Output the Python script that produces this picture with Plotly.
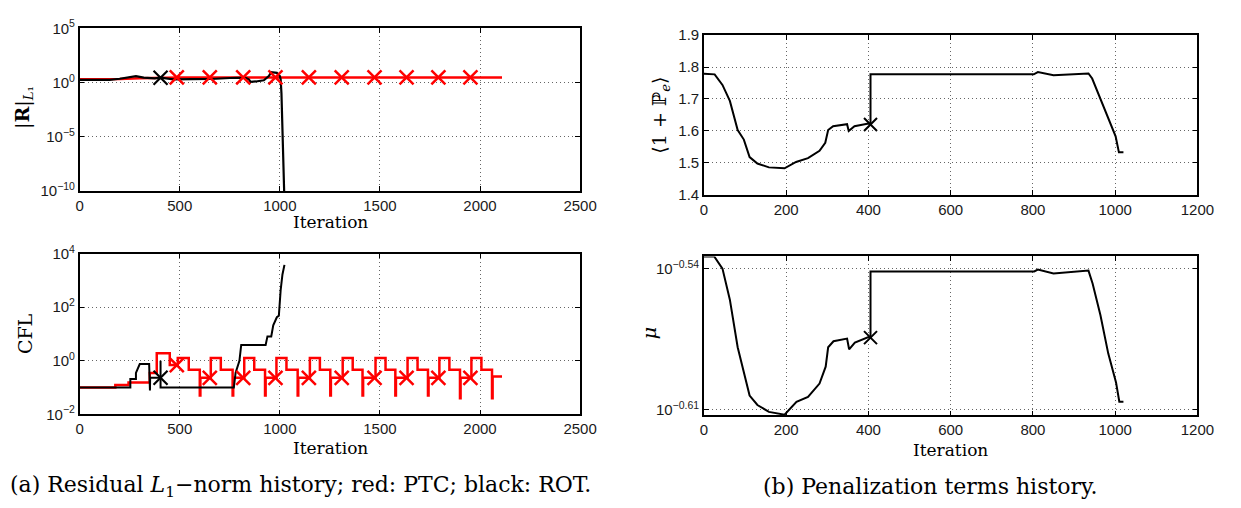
import plotly.graph_objects as go

# ---------------- data ----------------
# (a) top: residual L1 norm (log10 exponents)
res_red_iter = [0, 100, 200, 300, 400, 500, 1000, 1500, 2110]
res_red_exp = [0.30, 0.30, 0.32, 0.40, 0.45, 0.47, 0.475, 0.475, 0.475]
res_blk_iter = [0, 150, 200, 244, 281, 320, 375, 404, 469, 560, 657, 750, 826, 845,
                854, 880, 920, 945, 957, 985, 1000, 1004, 1008, 1023]
res_blk_exp = [0.24, 0.24, 0.35, 0.50, 0.59, 0.45, 0.39, 0.45, 0.30, 0.31, 0.33, 0.42,
               0.45, 0.30, 0.06, 0.10, 0.21, 0.60, 0.95, 0.89, 0.60, 0.30, -1.0, -11.0]
ptc_mark_iter = [485, 650, 817, 978, 1145, 1309, 1473, 1633, 1792, 1952]
res_ptc_mark_exp = [0.475, 0.475, 0.475, 0.475, 0.475, 0.475, 0.475, 0.475, 0.475, 0.475]
rot_mark_iter = [404]
res_rot_mark_exp = [0.445]

# (a) bottom: CFL
cfl_red_iter = [0, 178, 244, 350, 385, 450, 490, 545, 600, 603,
                655, 705, 764, 767, 822, 872, 926, 929, 983, 1033, 1089, 1092,
                1150, 1200, 1252, 1255, 1314, 1364, 1413, 1416, 1478, 1528, 1577, 1580,
                1638, 1688, 1740, 1743, 1797, 1847, 1900, 1903, 1957, 2007, 2060, 2063, 2110]
cfl_red_val = [0.1, 0.124, 0.155, 0.35, 1.9, 0.69, 1.26, 0.46, 0.05, 0.23,
               1.26, 0.46, 0.05, 0.23, 1.26, 0.46, 0.05, 0.23, 1.26, 0.46, 0.05, 0.23,
               1.26, 0.46, 0.05, 0.23, 1.26, 0.46, 0.05, 0.23, 1.26, 0.46, 0.05, 0.23,
               1.26, 0.46, 0.05, 0.23, 1.26, 0.46, 0.04, 0.23, 1.26, 0.46, 0.04, 0.26, 0.26]
cfl_blk_iter = [0, 253, 253, 281, 281, 290, 300, 347, 351, 352, 357, 404, 404, 404,
                770, 779, 798, 807, 929, 938, 957, 967, 985, 995, 1004, 1013, 1023]
cfl_blk_val = [0.1, 0.1, 0.21, 0.21, 0.35, 0.53, 0.75, 0.75, 0.078, 0.23, 0.23, 0.23,
               1.0, 0.1, 0.1, 0.36, 1.0, 3.9, 3.9, 8.1, 8.1, 21, 42, 48, 430, 1660, 3800]
cfl_ptc_mark_val = [0.69, 0.23, 0.23, 0.23, 0.23, 0.23, 0.23, 0.23, 0.23, 0.23]
cfl_rot_mark_val = [0.23]

# (b) top: <1 + P_e>
pe_iter = [0, 26, 45, 63, 82, 97, 111, 130, 158, 196, 224, 253, 281, 295, 302, 314,
           348, 352, 366, 400, 405, 405, 802, 812, 850, 935, 944, 963, 982, 1001, 1009, 1020]
pe_val = [1.779, 1.777, 1.744, 1.694, 1.603, 1.573, 1.518, 1.498, 1.486, 1.483, 1.503,
          1.515, 1.538, 1.563, 1.603, 1.615, 1.621, 1.600, 1.615, 1.623, 1.620, 1.777,
          1.777, 1.784, 1.774, 1.780, 1.764, 1.704, 1.643, 1.583, 1.533, 1.533]
pe_mark_iter = [405]
pe_mark_val = [1.620]

# (b) bottom: mu (log10 exponents)
mu_iter = [0, 25, 45, 63, 82, 97, 111, 130, 158, 196, 225, 253, 281, 296, 302, 315,
           348, 353, 367, 400, 405, 405, 803, 812, 850, 935, 945, 964, 983, 1002, 1010, 1020]
mu_exp = [-0.534, -0.534, -0.540, -0.5554, -0.579, -0.5918, -0.6029, -0.6076, -0.611,
          -0.6124, -0.606, -0.6036, -0.597, -0.5886, -0.579, -0.576, -0.5747, -0.580,
          -0.5767, -0.5739, -0.5742, -0.5414, -0.5414, -0.5405, -0.5424, -0.541, -0.5474,
          -0.563, -0.582, -0.5964, -0.606, -0.606]
mu_mark_iter = [405]
mu_mark_exp = [-0.5742]

# ---------------- figure ----------------
W, H = 1241, 508
RED = "#ff0000"
BLK = "#000000"
TICKFONT = dict(family="Liberation Sans, Arial, sans-serif", size=15, color="#1a1a1a")
SERIF = "DejaVu Serif, Liberation Serif, serif"


def px_x(a, b):
    return [a / W, b / W]


def px_y(top, bottom):
    return [1 - bottom / H, 1 - top / H]


fig = go.Figure()


def line(x, y, color, width, ax, shape="linear"):
    fig.add_trace(go.Scatter(x=x, y=y, mode="lines", line=dict(color=color, width=width, shape=shape),
                             xaxis=ax[0], yaxis=ax[1], showlegend=False, hoverinfo="skip"))


def marks(x, y, color, size, width, ax):
    fig.add_trace(go.Scatter(x=x, y=y, mode="markers",
                             marker=dict(symbol="x-thin", size=size, color=color,
                                         line=dict(color=color, width=width)),
                             xaxis=ax[0], yaxis=ax[1], showlegend=False, hoverinfo="skip",
                             cliponaxis=False))


A1 = ("x", "y")
A2 = ("x2", "y2")
A3 = ("x3", "y3")
A4 = ("x4", "y4")

# residual
line(res_red_iter, [10 ** v for v in res_red_exp], RED, 2.5, A1)
line(res_blk_iter, [10 ** v for v in res_blk_exp], BLK, 2.2, A1)
marks(ptc_mark_iter, [10 ** v for v in res_ptc_mark_exp], RED, 14, 2.5, A1)
marks(rot_mark_iter, [10 ** v for v in res_rot_mark_exp], BLK, 14, 2.2, A1)

# CFL
line(cfl_red_iter, cfl_red_val, RED, 2.5, A2, shape="hv")
line(cfl_blk_iter, cfl_blk_val, BLK, 2.0, A2)
marks(ptc_mark_iter, cfl_ptc_mark_val, RED, 14, 2.5, A2)
marks(rot_mark_iter, cfl_rot_mark_val, BLK, 14, 2.2, A2)

# Pe
line(pe_iter, pe_val, BLK, 2.0, A3)
marks(pe_mark_iter, pe_mark_val, BLK, 13, 2.0, A3)

# mu
line(mu_iter, [10 ** v for v in mu_exp], BLK, 2.0, A4)
marks(mu_mark_iter, [10 ** v for v in mu_mark_exp], BLK, 13, 2.0, A4)

axis_common = dict(showline=True, linecolor="black", linewidth=1.5, mirror="ticks",
                   ticks="inside", ticklen=5, tickcolor="black", tickwidth=1,
                   showgrid=True, gridcolor="#666", griddash="1px,3px", gridwidth=1,
                   zeroline=False, tickfont=TICKFONT)

fig.update_layout(
    width=W, height=H, margin=dict(l=0, r=0, t=0, b=0),
    paper_bgcolor="white", plot_bgcolor="white", showlegend=False,
    xaxis=dict(domain=px_x(77, 586), range=[0, 2500], tickvals=[0, 500, 1000, 1500, 2000, 2500],
               anchor="y", **axis_common),
    yaxis=dict(domain=px_y(18, 187), type="log", range=[-10, 5],
               tickvals=[1e-10, 1e-5, 1, 1e5],
               ticktext=["10<sup>−10</sup>", "10<sup>−5</sup>", "10<sup>0</sup>", "10<sup>5</sup>"],
               anchor="x", **axis_common),
    xaxis2=dict(domain=px_x(77, 586), range=[0, 2500], tickvals=[0, 500, 1000, 1500, 2000, 2500],
                anchor="y2", **axis_common),
    yaxis2=dict(domain=px_y(252, 419), type="log", range=[-2, 4],
                tickvals=[1e-2, 1, 1e2, 1e4],
                ticktext=["10<sup>−2</sup>", "10<sup>0</sup>", "10<sup>2</sup>", "10<sup>4</sup>"],
                anchor="x2", **axis_common),
    xaxis3=dict(domain=px_x(712, 1214), range=[0, 1200], tickvals=[0, 200, 400, 600, 800, 1000, 1200],
                anchor="y3", **axis_common),
    yaxis3=dict(domain=px_y(25, 191), range=[1.4, 1.9], tickvals=[1.4, 1.5, 1.6, 1.7, 1.8, 1.9],
                tickformat=".1f", anchor="x3", **axis_common),
    xaxis4=dict(domain=px_x(712, 1214), range=[0, 1200], tickvals=[0, 200, 400, 600, 800, 1000, 1200],
                anchor="y4", **axis_common),
    yaxis4=dict(domain=px_y(255, 420), type="log", range=[-0.6127, -0.534],
                tickvals=[10 ** -0.61, 10 ** -0.54],
                ticktext=["10<sup>−0.61</sup>", "10<sup>−0.54</sup>"],
                anchor="x4", **axis_common),
)


def note(text, x, y, size=17, angle=0, anchor="center"):
    fig.add_annotation(text=text, x=x / W, y=1 - y / H, xref="paper", yref="paper",
                       showarrow=False, textangle=angle, xanchor=anchor, yanchor="middle",
                       font=dict(family=SERIF, size=size, color="black"))


note("Iteration", 332, 219)
note("Iteration", 332, 454)
note("Iteration", 963, 456)
note("|<b>R</b>|<sub><i>L</i>₁</sub>", 20, 100, size=19, angle=-90)
note("CFL", 22, 335, size=19, angle=-90)
note("⟨1 + ℙ<sub><i>e</i></sub>⟩", 668, 108, size=19, angle=-90)
note("<i>μ</i>", 657, 335, size=19, angle=-90)
note("(a) Residual <i>L</i><sub>1</sub>−norm history; red: PTC; black: ROT.", 4, 494, size=22, anchor="left")
note("(b) Penalization terms history.", 770, 494, size=22, anchor="left")

fig.write_html("out.html")
